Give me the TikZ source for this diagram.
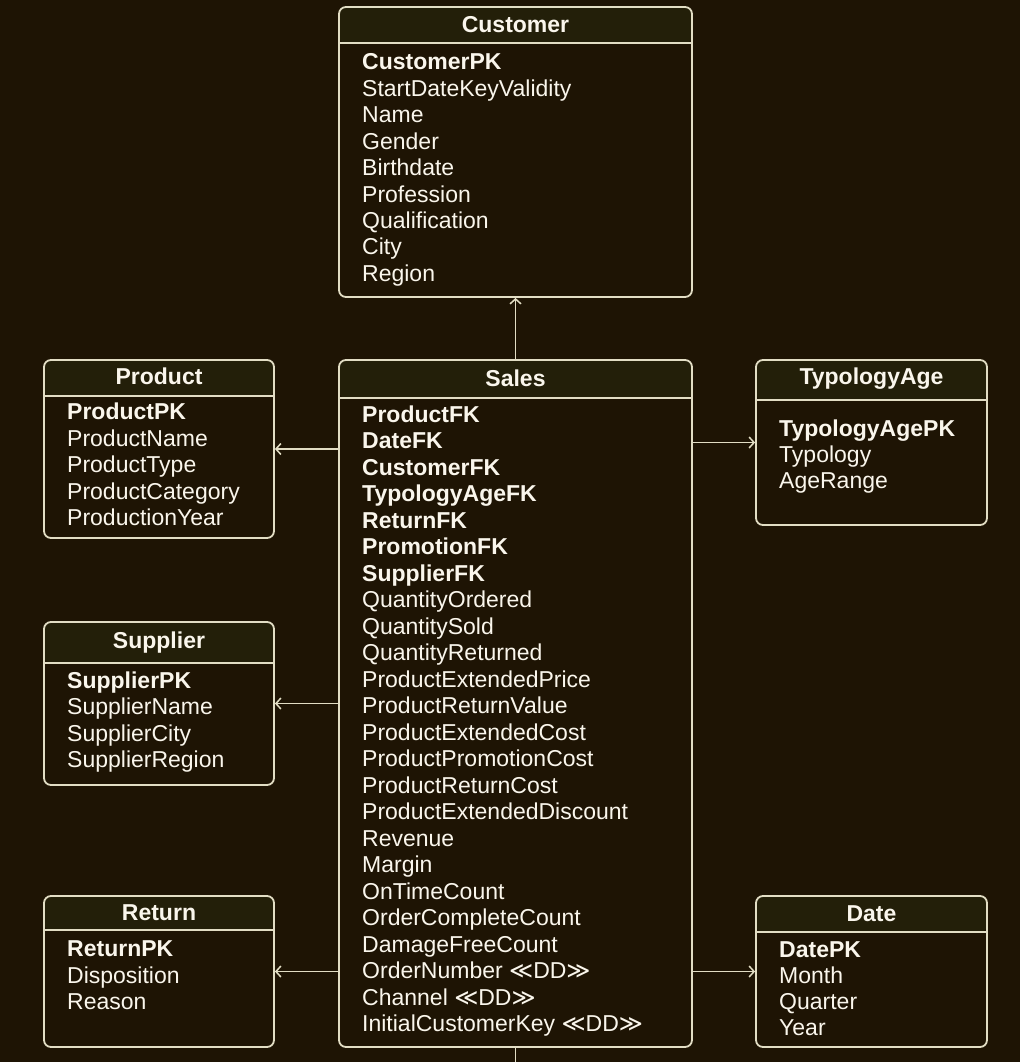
\documentclass[tikz,border=0pt]{standalone}
\usepackage{fontspec}
\setmainfont{Liberation Sans}
\newfontfamily\symfont{DejaVu Sans}
\usetikzlibrary{arrows.meta}
\definecolor{bgcol}{RGB}{30,20,4}
\definecolor{headcol}{RGB}{35,31,9}
\definecolor{rulecol}{RGB}{226,221,196}
\definecolor{textcol}{RGB}{250,246,236}
\newcommand{\dd}{{\symfont ≪}DD{\symfont ≫}}
\tikzset{entity/.style={rectangle, draw=rulecol, line width=1.8pt, rounded corners=7pt, inner sep=0pt,
    path picture={
        \fill[headcol] (path picture bounding box.north west) rectangle ([yshift=-#1]path picture bounding box.north east);
        \draw[rulecol, line width=1.8pt] ([yshift=-#1]path picture bounding box.north west) -- ([yshift=-#1]path picture bounding box.north east);
    }}}
\tikzstyle{tabletitle}=[anchor=base, inner sep=0pt, text=textcol, font=\fontsize{23}{26}\selectfont\bfseries]
\tikzstyle{field}=[anchor=base west, inner sep=0pt, text=textcol, font=\fontsize{23}{26}\selectfont]
\tikzstyle{fk}=[draw=rulecol, line width=1.5pt, -{Straight Barb[length=5pt,width=11pt]}]
\begin{document}
\begin{tikzpicture}[x=1pt, y=-1pt]
    \fill[bgcol] (0,0) rectangle (1020,1062);
    \useasboundingbox (0,0) rectangle (1020,1062);
    % tables
    \node[entity=36pt, minimum width=353pt, minimum height=290pt] (customer) at (515.5,152) {};
    \node[entity=36pt, minimum width=230pt, minimum height=178pt] (product) at (159,449) {};
    \node[entity=38pt, minimum width=353pt, minimum height=687pt] (sales) at (515.5,703.5) {};
    \node[entity=40pt, minimum width=231pt, minimum height=165pt] (typology) at (871.5,442.5) {};
    \node[entity=41pt, minimum width=230pt, minimum height=163pt] (supplier) at (159,703.5) {};
    \node[entity=34pt, minimum width=230pt, minimum height=151pt] (return) at (159,971.5) {};
    \node[entity=36pt, minimum width=231pt, minimum height=151pt] (date) at (871.5,971.5) {};
    % titles
    \node[tabletitle] (customer-t) at ([yshift=-26pt]customer.north) {Customer};
    \node[tabletitle] (product-t) at ([yshift=-25pt]product.north) {Product};
    \node[tabletitle] (sales-t) at ([yshift=-27pt]sales.north) {Sales};
    \node[tabletitle] (typology-t) at ([yshift=-25pt]typology.north) {TypologyAge};
    \node[tabletitle] (supplier-t) at ([yshift=-27pt]supplier.north) {Supplier};
    \node[tabletitle] (return-t) at ([yshift=-25pt]return.north) {Return};
    \node[tabletitle] (date-t) at ([yshift=-26pt]date.north) {Date};
    % fields
    \foreach \f [count=\i from 0] in {\textbf{CustomerPK}, StartDateKeyValidity, Name, Gender,
        Birthdate, Profession, Qualification, City, Region}
        \node[field] (customer-\i) at (362, 70+26.4*\i) {\f};
    \foreach \f [count=\i from 0] in {\textbf{ProductPK}, ProductName, ProductType,
        ProductCategory, ProductionYear}
        \node[field] (product-\i) at (67, 419.5+26.6*\i) {\f};
    \foreach \f [count=\i from 0] in {\textbf{ProductFK}, \textbf{DateFK}, \textbf{CustomerFK},
        \textbf{TypologyAgeFK}, \textbf{ReturnFK}, \textbf{PromotionFK}, \textbf{SupplierFK},
        QuantityOrdered, QuantitySold, QuantityReturned, ProductExtendedPrice,
        ProductReturnValue, ProductExtendedCost, ProductPromotionCost, ProductReturnCost,
        ProductExtendedDiscount, Revenue, Margin, OnTimeCount, OrderCompleteCount,
        DamageFreeCount, OrderNumber \dd, Channel \dd, InitialCustomerKey \dd}
        \node[field] (sales-\i) at (362, 422.5+26.48*\i) {\f};
    \foreach \f [count=\i from 0] in {\textbf{TypologyAgePK}, Typology, AgeRange}
        \node[field] (typology-\i) at (779, 436.5+26.2*\i) {\f};
    \foreach \f [count=\i from 0] in {\textbf{SupplierPK}, SupplierName, SupplierCity, SupplierRegion}
        \node[field] (supplier-\i) at (67, 688.5+26.4*\i) {\f};
    \foreach \f [count=\i from 0] in {\textbf{ReturnPK}, Disposition, Reason}
        \node[field] (return-\i) at (67, 956.5+26.5*\i) {\f};
    \foreach \f [count=\i from 0] in {\textbf{DatePK}, Month, Quarter, Year}
        \node[field] (date-\i) at (779, 957.5+26.1*\i) {\f};
    % references
    \coordinate (salesout) at (515.5,1062);
    \draw[fk] (sales.north) -- (customer.south);
    \draw[fk] (product.east -| sales.west) -- (product.east);
    \draw[fk] (supplier.east -| sales.west) -- (supplier.east);
    \draw[fk] (return.east -| sales.west) -- (return.east);
    \draw[fk] (typology.west -| sales.east) -- (typology.west);
    \draw[fk] (date.west -| sales.east) -- (date.west);
    \draw[draw=rulecol, line width=1.5pt] (sales.south) -- (salesout);
\end{tikzpicture}
\end{document}
